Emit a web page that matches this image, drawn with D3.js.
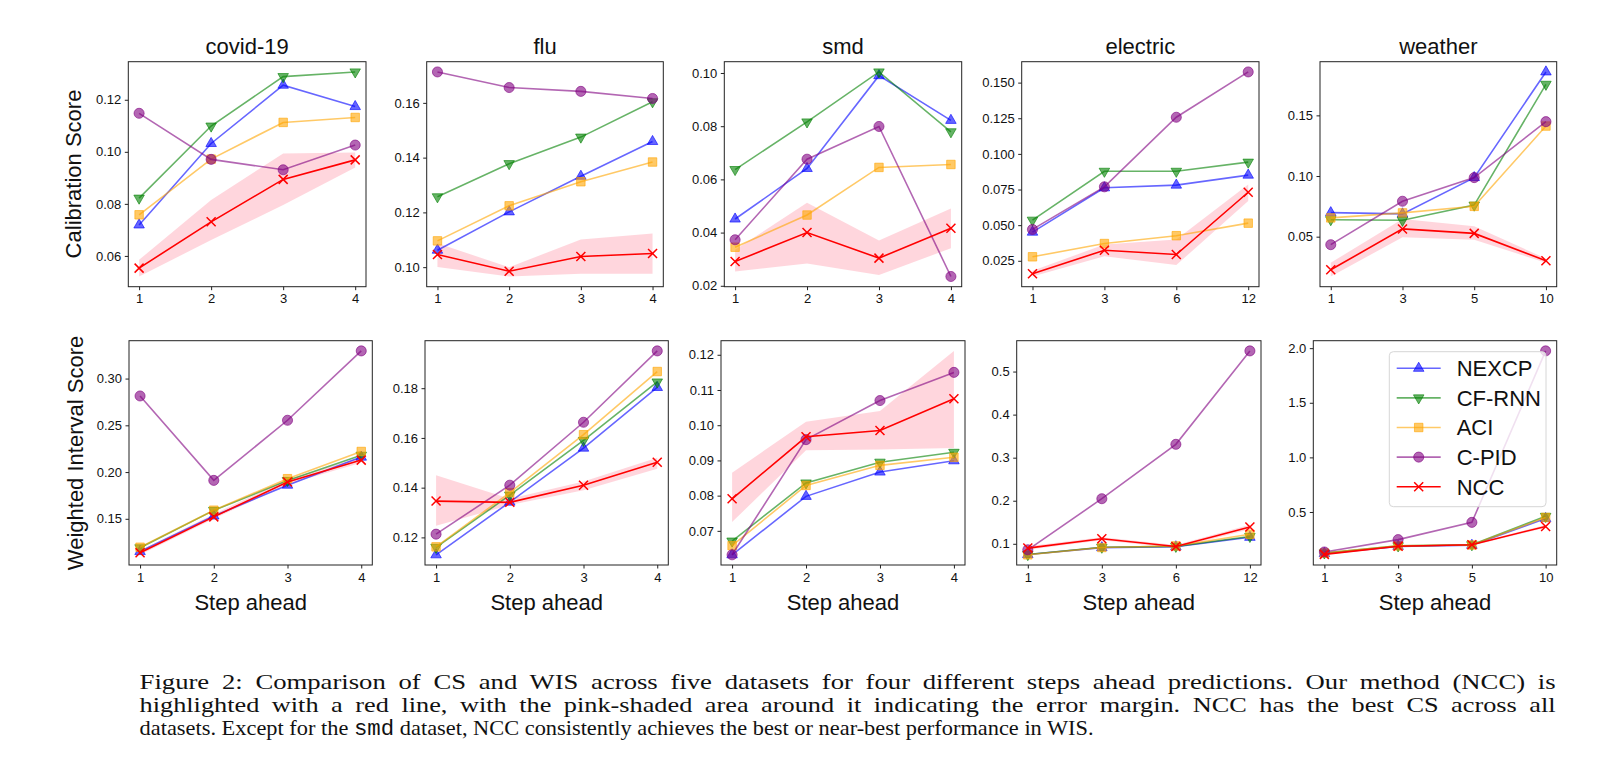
<!DOCTYPE html>
<html><head><meta charset="utf-8">
<script src="https://cdn.jsdelivr.net/npm/d3@7"></script>
<style>body{margin:0;background:#fff;} svg{display:block;}</style>
</head><body>
<svg id="chart" width="1621" height="782"></svg>
<script>
// ---------------- DATA ----------------
const datasets = ["covid-19", "flu", "smd", "electric", "weather"];
const methods = ["NEXCP", "CF-RNN", "ACI", "C-PID", "NCC"];
const stepsCovid = ["1", "2", "3", "4"];
const stepsFlu = ["1", "2", "3", "4"];
const stepsSmd = ["1", "2", "3", "4"];
const stepsElectric = ["1", "3", "6", "12"];
const stepsWeather = ["1", "3", "5", "10"];

// Calibration Score (rows: NEXCP, CF-RNN, ACI, C-PID, NCC)
const csCovid = [
  [0.0719, 0.1032, 0.1256, 0.1174],
  [0.0822, 0.1099, 0.1289, 0.1307],
  [0.0758, 0.0972, 0.1113, 0.1132],
  [0.1148, 0.0971, 0.0931, 0.1026],
  [0.0553, 0.0731, 0.0894, 0.0969]];
const csCovidBand = [[0.0521, 0.0661, 0.0796, 0.0940], [0.0585, 0.0815, 0.0994, 0.0997]];
const csFlu = [
  [0.1062, 0.1202, 0.1332, 0.1459],
  [0.1257, 0.1378, 0.1475, 0.1604],
  [0.1096, 0.1224, 0.1312, 0.1384],
  [0.1713, 0.1656, 0.1642, 0.1616],
  [0.1046, 0.0985, 0.1039, 0.1050]];
const csFluBand = [[0.1001, 0.0966, 0.0976, 0.0976], [0.1087, 0.1000, 0.1101, 0.1123]];
const csSmd = [
  [0.0451, 0.0641, 0.0990, 0.0822],
  [0.0637, 0.0816, 0.1004, 0.0779],
  [0.0345, 0.0466, 0.0645, 0.0656],
  [0.0373, 0.0676, 0.0799, 0.0235],
  [0.0291, 0.0400, 0.0304, 0.0416]];
const csSmdBand = [[0.0254, 0.0284, 0.0241, 0.0341], [0.0335, 0.0512, 0.0370, 0.0491]];
const csElectric = [
  [0.0451, 0.0762, 0.0781, 0.0851],
  [0.0535, 0.0878, 0.0878, 0.0942],
  [0.0278, 0.0371, 0.0426, 0.0514],
  [0.0470, 0.0769, 0.1257, 0.1575],
  [0.0159, 0.0324, 0.0294, 0.0731]];
const csElectricBand = [[0.0140, 0.0282, 0.0220, 0.0669], [0.0180, 0.0364, 0.0400, 0.0785]];
const csWeather = [
  [0.0698, 0.0688, 0.0987, 0.1858],
  [0.0640, 0.0635, 0.0760, 0.1756],
  [0.0655, 0.0696, 0.0750, 0.1412],
  [0.0434, 0.0792, 0.0987, 0.1448],
  [0.0227, 0.0564, 0.0527, 0.0302]];
const csWeatherBand = [[0.0172, 0.0495, 0.0475, 0.0285], [0.0285, 0.0645, 0.0585, 0.0320]];

// Weighted Interval Score
const wisCovid = [
  [0.1150, 0.1530, 0.1860, 0.2160],
  [0.1190, 0.1590, 0.1910, 0.2180],
  [0.1196, 0.1592, 0.1929, 0.2220],
  [0.2814, 0.1911, 0.2554, 0.3296],
  [0.1136, 0.1521, 0.1893, 0.2128]];
const wisCovidBand = [[0.1115, 0.1500, 0.1870, 0.2100], [0.1160, 0.1550, 0.1920, 0.2160]];
const wisFlu = [
  [0.1130, 0.1342, 0.1559, 0.1803],
  [0.1160, 0.1370, 0.1590, 0.1825],
  [0.1162, 0.1380, 0.1613, 0.1867],
  [0.1213, 0.1410, 0.1663, 0.1950],
  [0.1346, 0.1341, 0.1410, 0.1502]];
const wisFluBand = [[0.1247, 0.1330, 0.1390, 0.1476], [0.1450, 0.1355, 0.1425, 0.1520]];
const wisSmd = [
  [0.0632, 0.0798, 0.0867, 0.0899],
  [0.0671, 0.0836, 0.0895, 0.0923],
  [0.0658, 0.0829, 0.0886, 0.0909],
  [0.0632, 0.0959, 0.1070, 0.1150],
  [0.0791, 0.0967, 0.0985, 0.1075]];
const wisSmdBand = [[0.0725, 0.0929, 0.0931, 0.0935], [0.0865, 0.1010, 0.1040, 0.1211]];
const wisElectric = [
  [0.075, 0.091, 0.093, 0.115],
  [0.075, 0.092, 0.094, 0.117],
  [0.0744, 0.0914, 0.095, 0.122],
  [0.086, 0.2047, 0.331, 0.548],
  [0.090, 0.1117, 0.0937, 0.139]];
const wisElectricBand = [[0.086, 0.108, 0.090, 0.134], [0.094, 0.115, 0.097, 0.144]];
const wisWeather = [
  [0.120, 0.185, 0.195, 0.440],
  [0.125, 0.190, 0.200, 0.460],
  [0.125, 0.190, 0.198, 0.450],
  [0.134, 0.247, 0.405, 1.975],
  [0.112, 0.186, 0.200, 0.368]];
const wisWeatherBand = [[0.108, 0.178, 0.192, 0.355], [0.116, 0.194, 0.208, 0.381]];

// Tick values and labels
const csTicksCovid = [0.06, 0.08, 0.10, 0.12];       const csLabelsCovid = ["0.06", "0.08", "0.10", "0.12"];
const csTicksFlu = [0.10, 0.12, 0.14, 0.16];         const csLabelsFlu = ["0.10", "0.12", "0.14", "0.16"];
const csTicksSmd = [0.02, 0.04, 0.06, 0.08, 0.10];   const csLabelsSmd = ["0.02", "0.04", "0.06", "0.08", "0.10"];
const csTicksElectric = [0.025, 0.05, 0.075, 0.10, 0.125, 0.15];
const csLabelsElectric = ["0.025", "0.050", "0.075", "0.100", "0.125", "0.150"];
const csTicksWeather = [0.05, 0.10, 0.15];           const csLabelsWeather = ["0.05", "0.10", "0.15"];
const wisTicksCovid = [0.15, 0.20, 0.25, 0.30];      const wisLabelsCovid = ["0.15", "0.20", "0.25", "0.30"];
const wisTicksFlu = [0.12, 0.14, 0.16, 0.18];        const wisLabelsFlu = ["0.12", "0.14", "0.16", "0.18"];
const wisTicksSmd = [0.07, 0.08, 0.09, 0.10, 0.11, 0.12];
const wisLabelsSmd = ["0.07", "0.08", "0.09", "0.10", "0.11", "0.12"];
const wisTicksElectric = [0.1, 0.2, 0.3, 0.4, 0.5];  const wisLabelsElectric = ["0.1", "0.2", "0.3", "0.4", "0.5"];
const wisTicksWeather = [0.5, 1.0, 1.5, 2.0];        const wisLabelsWeather = ["0.5", "1.0", "1.5", "2.0"];

const captionLine1 = "Figure 2: Comparison of CS and WIS across five datasets for four different steps ahead predictions. Our method (NCC) is";
const captionLine2 = "highlighted with a red line, with the pink-shaded area around it indicating the error margin. NCC has the best CS across all";
const captionLine3a = "datasets. Except for the ";
const captionLine3b = "smd";
const captionLine3c = " dataset, NCC consistently achieves the best or near-best performance in WIS.";

// ---------------- STYLE / LAYOUT ----------------
const colors = {"NEXCP": "#0000ff", "CF-RNN": "#008000", "ACI": "#ffa500", "C-PID": "#800080", "NCC": "#ff0000"};
const alphas = {"NEXCP": 0.6, "CF-RNN": 0.6, "ACI": 0.6, "C-PID": 0.6, "NCC": 1};
const SANS = "'Liberation Sans', Arial, Helvetica, sans-serif";
const SERIF = "'Liberation Serif', 'Times New Roman', serif";
const MONO = "'Liberation Mono', 'DejaVu Sans Mono', monospace";

const topBoxes = [[128.3, 366], [426.7, 663.3], [724.3, 961.7], [1021.7, 1259], [1320, 1556.7]];
const botBoxes = [[129, 372.3], [425, 668.3], [721, 965], [1016.7, 1261], [1313.3, 1556.7]];
const topY = [61.7, 286.7], botY = [340.7, 565];

const stepsAll = [stepsCovid, stepsFlu, stepsSmd, stepsElectric, stepsWeather];
const csAll = [csCovid, csFlu, csSmd, csElectric, csWeather];
const csBandAll = [csCovidBand, csFluBand, csSmdBand, csElectricBand, csWeatherBand];
const wisAll = [wisCovid, wisFlu, wisSmd, wisElectric, wisWeather];
const wisBandAll = [wisCovidBand, wisFluBand, wisSmdBand, wisElectricBand, wisWeatherBand];
const csTicksAll = [csTicksCovid, csTicksFlu, csTicksSmd, csTicksElectric, csTicksWeather];
const csLabelsAll = [csLabelsCovid, csLabelsFlu, csLabelsSmd, csLabelsElectric, csLabelsWeather];
const wisTicksAll = [wisTicksCovid, wisTicksFlu, wisTicksSmd, wisTicksElectric, wisTicksWeather];
const wisLabelsAll = [wisLabelsCovid, wisLabelsFlu, wisLabelsSmd, wisLabelsElectric, wisLabelsWeather];

const svg = d3.select("#chart");
svg.append("rect").attr("width", 1621).attr("height", 782).attr("fill", "#fff");

function markerPath(m) {
  if (m === "NEXCP") return d3.symbol(d3.symbolTriangle, 48)();
  if (m === "CF-RNN") return d3.symbol(d3.symbolTriangle, 48)();
  if (m === "ACI") return d3.symbol(d3.symbolSquare, 72)();
  if (m === "C-PID") return d3.symbol(d3.symbolCircle, 80)();
  return "M-4.5,-4.5L4.5,4.5M-4.5,4.5L4.5,-4.5";
}
function drawMarker(g, m, x, y) {
  const p = g.append("path").attr("d", markerPath(m))
    .attr("transform", `translate(${x},${y})` + (m === "CF-RNN" ? " rotate(180)" : ""));
  if (m === "NCC") {
    p.attr("fill", "none").attr("stroke", colors[m]).attr("stroke-width", 1.5);
  } else {
    p.attr("fill", colors[m]).attr("fill-opacity", alphas[m])
     .attr("stroke", colors[m]).attr("stroke-opacity", alphas[m]).attr("stroke-width", 1);
  }
}

function drawPanel(box, yr, steps, vals, band, ticks, labels) {
  const g = svg.append("g");
  const x = d3.scaleLinear().domain([-0.15, 3.15]).range([box[0], box[1]]);
  const allV = vals.flat().concat(band.flat());
  const lo = d3.min(allV), hi = d3.max(allV), pad = (hi - lo) * 0.05;
  const y = d3.scaleLinear().domain([lo - pad, hi + pad]).range([yr[1], yr[0]]);
  const idx = steps.map((s, i) => i);

  // band
  g.append("path").datum(idx)
    .attr("d", d3.area().x(i => x(i)).y0(i => y(band[0][i])).y1(i => y(band[1][i])))
    .attr("fill", "#ffc0cb").attr("fill-opacity", 0.65);

  methods.forEach((m, k) => {
    g.append("path").datum(idx)
      .attr("d", d3.line().x(i => x(i)).y(i => y(vals[k][i])))
      .attr("fill", "none").attr("stroke", colors[m]).attr("stroke-opacity", alphas[m])
      .attr("stroke-width", 1.6);
    idx.forEach(i => drawMarker(g, m, x(i), y(vals[k][i])));
  });

  // axes
  const ax = g.append("g").attr("transform", `translate(0,${yr[1]})`)
    .call(d3.axisBottom(x).tickValues(idx).tickFormat(i => steps[i]).tickSizeOuter(0).tickSize(3.5).tickPadding(4));
  const ay = g.append("g").attr("transform", `translate(${box[0]},0)`)
    .call(d3.axisLeft(y).tickValues(ticks).tickFormat((d, i) => labels[i]).tickSizeOuter(0).tickSize(3.5).tickPadding(3.5));
  [ax, ay].forEach(a => {
    a.select(".domain").remove();
    a.selectAll("line").attr("stroke", "#222").attr("stroke-width", 1);
    a.selectAll("text").attr("font-family", SANS).attr("font-size", 13).attr("fill", "#111");
  });
  g.append("rect").attr("x", box[0]).attr("y", yr[0]).attr("width", box[1] - box[0]).attr("height", yr[1] - yr[0])
    .attr("fill", "none").attr("stroke", "#222").attr("stroke-width", 1);
  return {g, x, y};
}

for (let d = 0; d < 5; d++) {
  drawPanel(topBoxes[d], topY, stepsAll[d], csAll[d], csBandAll[d], csTicksAll[d], csLabelsAll[d]);
  drawPanel(botBoxes[d], botY, stepsAll[d], wisAll[d], wisBandAll[d], wisTicksAll[d], wisLabelsAll[d]);
  svg.append("text").attr("x", (topBoxes[d][0] + topBoxes[d][1]) / 2).attr("y", 53.5)
    .attr("text-anchor", "middle").attr("font-family", SANS).attr("font-size", 22).attr("fill", "#111")
    .text(datasets[d]);
  svg.append("text").attr("x", (botBoxes[d][0] + botBoxes[d][1]) / 2).attr("y", 609.5)
    .attr("text-anchor", "middle").attr("font-family", SANS).attr("font-size", 22).attr("fill", "#111")
    .text("Step ahead");
}
svg.append("text").attr("transform", `translate(80.5,174) rotate(-90)`)
  .attr("text-anchor", "middle").attr("font-family", SANS).attr("font-size", 22).attr("fill", "#111")
  .text("Calibration Score");
svg.append("text").attr("transform", `translate(82.5,453) rotate(-90)`)
  .attr("text-anchor", "middle").attr("font-family", SANS).attr("font-size", 22).attr("fill", "#111")
  .text("Weighted Interval Score");

// legend
const lg = svg.append("g");
lg.append("rect").attr("x", 1389.3).attr("y", 351.7).attr("width", 156.7).attr("height", 155)
  .attr("rx", 4).attr("fill", "#fff").attr("fill-opacity", 0.8).attr("stroke", "#d6d6d6").attr("stroke-width", 1);
methods.forEach((m, k) => {
  const yy = 368.3 + k * 29.6;
  lg.append("line").attr("x1", 1396.7).attr("x2", 1440.7).attr("y1", yy).attr("y2", yy)
    .attr("stroke", colors[m]).attr("stroke-opacity", alphas[m]).attr("stroke-width", 1.6);
  drawMarker(lg, m, 1418.7, yy);
  lg.append("text").attr("x", 1456.7).attr("y", yy).attr("dy", "0.36em")
    .attr("font-family", SANS).attr("font-size", 22).attr("fill", "#111").text(m);
});

// caption: lines fitted to the widths of the printed caption
const cap = svg.append("g").attr("font-family", SERIF).attr("font-size", 22).attr("fill", "#111");
cap.append("text").attr("x", 139.6).attr("y", 688.5).attr("word-spacing", 5)
  .attr("textLength", 1416).attr("lengthAdjust", "spacingAndGlyphs").text(captionLine1);
cap.append("text").attr("x", 139.6).attr("y", 711.5).attr("word-spacing", 5)
  .attr("textLength", 1416).attr("lengthAdjust", "spacingAndGlyphs").text(captionLine2);
const t3 = cap.append("text").attr("x", 139.6).attr("y", 734.5).attr("textLength", 954).attr("lengthAdjust", "spacingAndGlyphs");
t3.append("tspan").text(captionLine3a);
t3.append("tspan").attr("font-family", MONO).text(captionLine3b);
t3.append("tspan").text(captionLine3c);
</script>
</body></html>
